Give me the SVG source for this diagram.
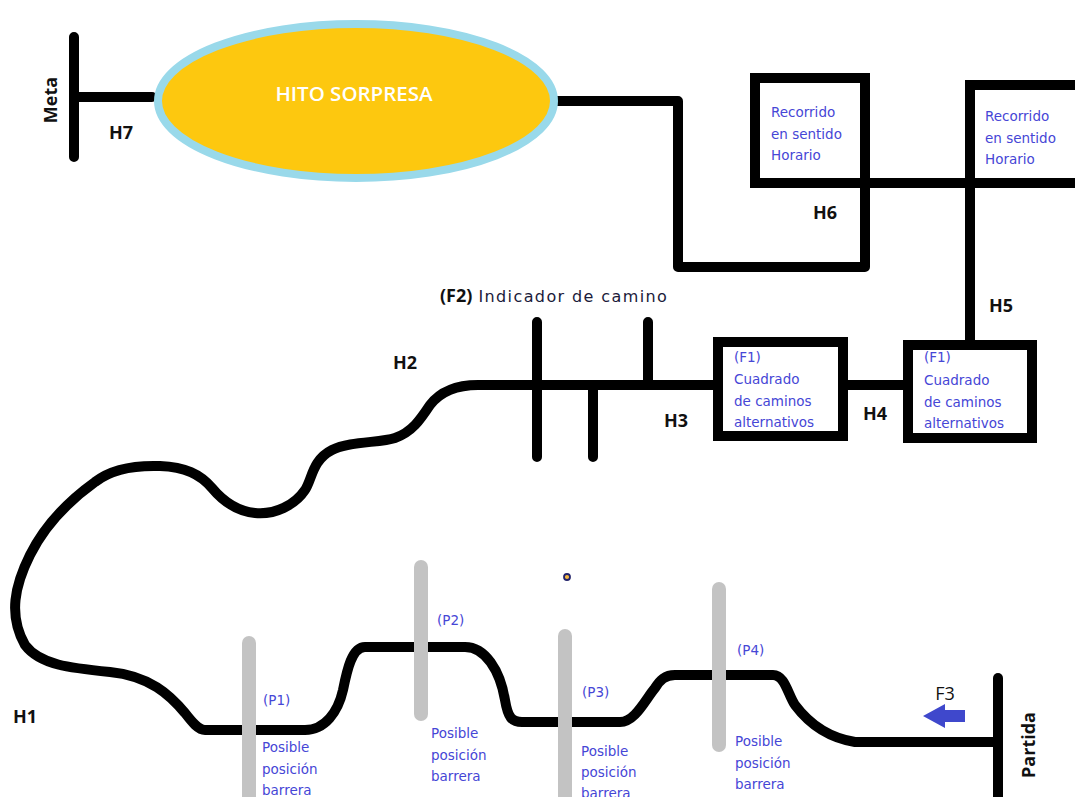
<svg xmlns="http://www.w3.org/2000/svg" width="1075" height="797" viewBox="0 0 1075 797">
<style>
.trk{fill:none;stroke:#000;stroke-width:10;stroke-linejoin:round;stroke-linecap:round}
.box{fill:#fff;stroke:#000;stroke-width:10}
.bar{stroke:#c3c3c3;stroke-width:14;stroke-linecap:round}
.h{font-family:"Open Sans","Liberation Sans",sans-serif;font-weight:bold;font-size:18px;fill:#111}
.b{font-family:"DejaVu Sans","Liberation Sans",sans-serif;font-size:13.5px;fill:#4646d6}
.lbl{font-family:"DejaVu Sans","Liberation Sans",sans-serif;font-size:16px;fill:#1a1a3a}
</style>
<rect width="1075" height="797" fill="#fff"/>
<g id="connectors">
<path class="trk" d="M74 37 V157 M74 97 H152"/>
<path class="trk" d="M557 101 H678 V267 H865 V183"/>
<path class="trk" d="M865 183 H1080 M970 183 V343"/>
<path class="trk" d="M843 385 H906"/>
<path class="trk" d="M537 322 V457 M593 385 V457 M648 322 V385"/>
<path class="trk" d="M716 385 H478 C455 385 440 392 430 405 C420 420 412 432 395 438 C380 443 350 441 332 450 C312 460 312 480 305 490 C295 505 275 515 255 513 C235 511 222 500 212 488 C200 474 185 467 160 466 C130 465 110 470 95 482 C70 500 45 525 30 555 C15 585 8 615 25 645 C40 665 70 668 110 672 C150 676 170 695 185 713 C192 722 198 730 205 730 H305 C325 730 338 712 343 690 C347 670 352 647 365 647 H465 C485 647 500 670 505 700 C508 718 512 722 522 722 H620 C635 722 645 700 655 688 C660 680 665 675 675 675 H773 C785 675 788 695 795 705 C810 725 830 738 855 742 H998"/>
<path class="trk" d="M998 678 V800"/>
<path d="M923 716 L945 704 V710 H965 V722 H945 V728 Z" fill="#3f48cc"/>
</g>
<g id="meta">
<text class="h" transform="translate(57 100) rotate(-90)" text-anchor="middle" font-size="19">Meta</text>
<text class="h" x="121" y="139" text-anchor="middle">H7</text>
</g>
<g id="hito">
<ellipse cx="356" cy="101" rx="198" ry="77" fill="#fdc80f" stroke="#99d9ea" stroke-width="8"/>
<text x="354" y="101" text-anchor="middle" font-family="Open Sans, Liberation Sans, sans-serif" font-weight="600" font-size="20.5" fill="#fff">HITO SORPRESA</text>
</g>
<g id="h6box">
<rect class="box" x="755" y="78" width="110" height="105"/>
<text class="b" x="771" y="117">Recorrido</text>
<text class="b" x="771" y="139">en sentido</text>
<text class="b" x="771" y="160">Horario</text>
<text class="h" x="825" y="219" text-anchor="middle">H6</text>
</g>
<g id="h5box">
<rect class="box" x="970" y="85" width="120" height="98"/>
<text class="b" x="985" y="121">Recorrido</text>
<text class="b" x="985" y="143">en sentido</text>
<text class="b" x="985" y="164">Horario</text>
<text class="h" x="1001" y="312" text-anchor="middle">H5</text>
</g>
<g id="f1a">
<rect class="box" x="718" y="342" width="125" height="94"/>
<text class="b" x="734" y="362">(F1)</text>
<text class="b" x="734" y="384">Cuadrado</text>
<text class="b" x="734" y="406">de caminos</text>
<text class="b" x="734" y="427">alternativos</text>
<text class="h" x="676" y="427" text-anchor="middle">H3</text>
</g>
<g id="f1b">
<rect class="box" x="908" y="345" width="124" height="93"/>
<text class="b" x="924" y="362">(F1)</text>
<text class="b" x="924" y="385">Cuadrado</text>
<text class="b" x="924" y="407">de caminos</text>
<text class="b" x="924" y="428">alternativos</text>
<text class="h" x="875" y="420" text-anchor="middle">H4</text>
</g>
<g id="f2">
<text x="440" y="302"><tspan class="h" font-size="21">(F2)</tspan><tspan class="lbl" dx="6" letter-spacing="1.4">Indicador de camino</tspan></text>
<text class="h" x="405" y="369" text-anchor="middle">H2</text>
</g>
<g id="h1">
<text class="h" x="25" y="723" text-anchor="middle">H1</text>
</g>
<g id="mark">
<circle cx="567" cy="577" r="3" fill="#f5b942" stroke="#23236a" stroke-width="1.8"/>
</g>
<g id="p1">
<line class="bar" x1="249" y1="643" x2="249" y2="805"/>
<text class="b" x="263" y="705">(P1)</text>
<text class="b" x="262" y="752">Posible</text>
<text class="b" x="262" y="774">posición</text>
<text class="b" x="262" y="795">barrera</text>
</g>
<g id="p2">
<line class="bar" x1="421" y1="567" x2="421" y2="714"/>
<text class="b" x="437" y="625">(P2)</text>
<text class="b" x="431" y="738">Posible</text>
<text class="b" x="431" y="760">posición</text>
<text class="b" x="431" y="781">barrera</text>
</g>
<g id="p3">
<line class="bar" x1="565" y1="636" x2="565" y2="805"/>
<text class="b" x="582" y="697">(P3)</text>
<text class="b" x="581" y="756">Posible</text>
<text class="b" x="581" y="777">posición</text>
<text class="b" x="581" y="798">barrera</text>
</g>
<g id="p4">
<line class="bar" x1="719" y1="589" x2="719" y2="745"/>
<text class="b" x="737" y="655">(P4)</text>
<text class="b" x="735" y="746">Posible</text>
<text class="b" x="735" y="768">posición</text>
<text class="b" x="735" y="789">barrera</text>
</g>
<g id="partida">
<text x="945" y="700" text-anchor="middle" font-family="Open Sans, Liberation Sans, sans-serif" font-size="18" fill="#111">F3</text>
<text class="h" transform="translate(1035 745) rotate(-90)" text-anchor="middle" font-size="19">Partida</text>
</g>
</svg>
